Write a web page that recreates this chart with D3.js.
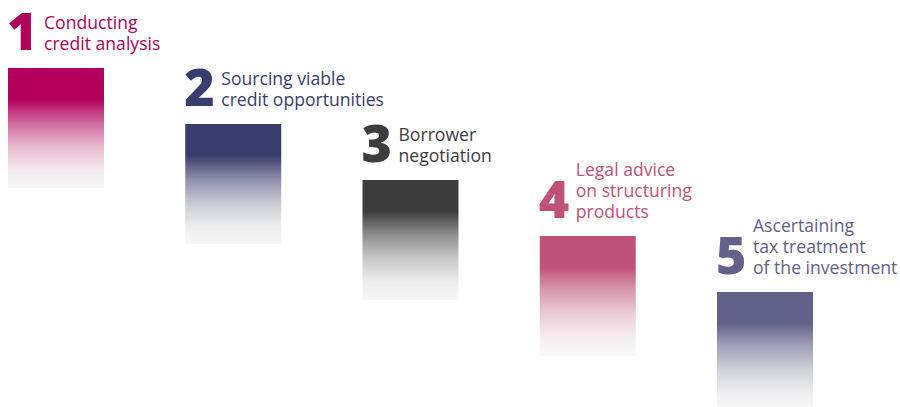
<!DOCTYPE html>
<html>
<head>
<meta charset="utf-8">
<script src="https://cdn.jsdelivr.net/npm/d3@7"></script>
<style>
  html, body { margin: 0; padding: 0; background: #fff; }
  svg { display: block; }
</style>
</head>
<body>
<div id="chart"></div>
<script>
/* Data */

const steps = [1, 2, 3, 4, 5];
const labels = [
  ['Conducting', 'credit analysis'],
  ['Sourcing viable', 'credit opportunities'],
  ['Borrower', 'negotiation'],
  ['Legal advice', 'on structuring', 'products'],
  ['Ascertaining', 'tax treatment', 'of the investment']
];
const colors = ['#b3005a', '#393d6d', '#3d3d3d', '#c05279', '#62618a'];

/* Layout */

const width = 900, height = 407;
const barHeight = 120;
const lineGap = 21;
const textGap = 18;

const svg = d3.select('#chart').append('svg')
  .attr('width', width)
  .attr('height', height);

const x = d3.scaleBand()
  .domain(steps)
  .range([8, 813])
  .paddingInner(0.4584)
  .paddingOuter(0);

const y = d3.scaleLinear()
  .domain([1, 5])
  .range([68, 292]);

/* Gradients */

const defs = svg.append('defs');
steps.forEach((s, i) => {
  const c = colors[i];
  const g = defs.append('linearGradient')
    .attr('id', 'grad' + s)
    .attr('x1', 0).attr('y1', 0)
    .attr('x2', 0).attr('y2', 1);
  const mix = t => d3.interpolateRgb(c, '#f8f8f8')(t);
  [[0, 0], [0.26, 0], [0.45, 0.42], [0.65, 0.74], [0.85, 0.94], [1, 1]]
    .forEach(([o, t]) => g.append('stop').attr('offset', o).attr('stop-color', mix(t)));
});

/* Bars */

svg.selectAll('rect.bar')
  .data(steps)
  .join('rect')
  .attr('class', 'bar')
  .attr('x', d => x(d))
  .attr('y', d => y(d))
  .attr('width', x.bandwidth())
  .attr('height', barHeight)
  .attr('fill', d => `url(#grad${d})`);

/* Numbers */

svg.selectAll('text.num')
  .data(steps)
  .join('text')
  .attr('class', 'num')
  .attr('x', d => x(d) - 1)
  .attr('y', d => y(d) - textGap)
  .attr('fill', (d, i) => colors[i])
  .style('font-family', '"Open Sans", sans-serif')
  .style('font-weight', 800)
  .style('font-size', '52px')
  .text(d => d);

/* Labels */

const labelGroups = svg.selectAll('text.label')
  .data(steps)
  .join('text')
  .attr('class', 'label')
  .attr('fill', (d, i) => colors[i])
  .style('font-family', '"Open Sans", sans-serif')
  .style('font-size', '17.6px');

labelGroups.selectAll('tspan')
  .data((d, i) => labels[i].map((t, j, arr) => ({ step: d, text: t, back: arr.length - 1 - j })))
  .join('tspan')
  .attr('x', d => x(d.step) + 36)
  .attr('y', d => y(d.step) - textGap - d.back * lineGap)
  .text(d => d.text);
</script>
</body>
</html>
